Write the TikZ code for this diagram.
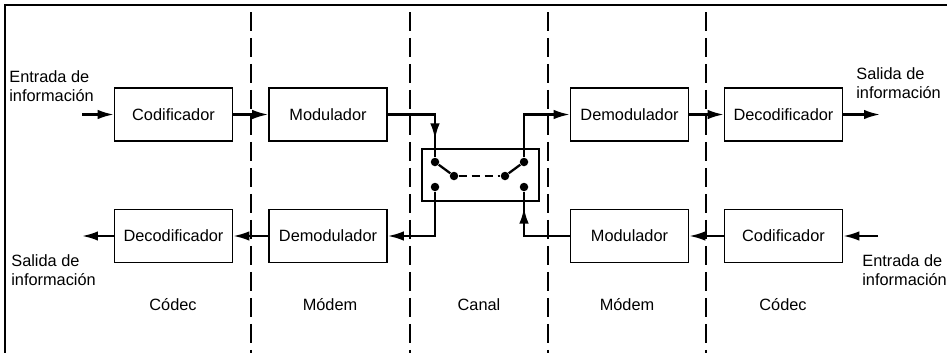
\documentclass[tikz,border=0pt]{standalone}
\usepackage{fontspec}
\setmainfont{Liberation Sans}
\usetikzlibrary{arrows.meta,positioning}

\begin{document}
\begin{tikzpicture}[x=0.02cm,y=-0.02cm,every node/.style={font=\fontsize{9.3}{11}\selectfont},
    box/.style={draw,line width=.9pt,minimum width=2.36cm,minimum height=1.06cm,inner sep=0},
    conn/.style={line width=1.3pt},
    arr/.style={conn,-{Latex[length=.32cm,width=.19cm]}},
    dot/.style={circle,fill,inner sep=0,minimum size=.17cm},
    side/.style={align=left,anchor=west,inner sep=0}]
      \useasboundingbox (0,0) rectangle (947,352);
      \draw[line width=1.2pt] (5,360) |- (960,5);
      \foreach \x in {251,410,548,706} \draw[line width=1.4pt,dash pattern=on .38cm off .14cm] (\x,12)--(\x,360);
      % upper row
      \node[box] (cod1) at (173.5,114.5) {Codificador};
      \node[box] (mod1) at (328,114.5) {Modulador};
      \node[box] (demod1) at (629.5,114.5) {Demodulador};
      \node[box] (decod1) at (783.5,114.5) {Decodificador};
      % lower row
      \node[box] (decod2) at (173.5,236) {Decodificador};
      \node[box] (demod2) at (328,236) {Demodulador};
      \node[box] (mod2) at (629.5,236) {Modulador};
      \node[box] (cod2) at (783.5,236) {Codificador};
      % channel switch
      \node[draw,line width=.7pt,minimum width=2.34cm,minimum height=1.04cm] (sw) at (480.5,175) {};
      \node[dot] (a1) at (435,162) {};
      \node[dot] (m1) at (454,176) {};
      \node[dot] (m2) at (505,176) {};
      \node[dot] (b1) at (524,162) {};
      \node[dot] (a2) at (435,187) {};
      \node[dot] (b2) at (524,187) {};
      \draw[conn] (a1)--(m1);
      \draw[conn,dash pattern=on .16cm off .1cm] (m1)--(m2);
      \draw[conn] (m2)--(b1);
      % side texts
      \node[side] (in1) at (9,86) {Entrada de\\información};
      \node[side] (out1) at (856,83) {Salida de\\información};
      \node[side] (out2) at (11,270) {Salida de\\información};
      \node[side] (in2) at (862,270) {Entrada de\\información};
      \coordinate (src1) at (82,114.5);
      \coordinate (dst1) at (880,114.5);
      \coordinate (src2) at (878,236);
      \coordinate (dst2) at (82,236);
      % section names
      \node (s1) at (173,305) {Códec};
      \node (s2) at (330,305) {Módem};
      \node (s3) at (479,305) {Canal};
      \node (s4) at (627,305) {Módem};
      \node (s5) at (783,305) {Códec};
      % connectors
      \foreach \x/\y in {src1/cod1,cod1/mod1,demod1/decod1,decod1/dst1,src2/cod2,cod2/mod2,demod2/decod2,decod2/dst2} \draw[arr] (\x)--(\y);
      \draw[conn] (mod1.east) -| (a1);
      \draw[arr] (mod1.east) -| ([yshift=.18cm]sw.north -| a1);
      \draw[arr] (b1) |- (demod1.west);
      \draw[arr] (a2) |- (demod2.east);
      \draw[conn] (mod2.west) -| (b2);
      \draw[arr] (mod2.west) -| ([yshift=-.12cm]sw.south -| b2);
    \end{tikzpicture}
\end{document}
